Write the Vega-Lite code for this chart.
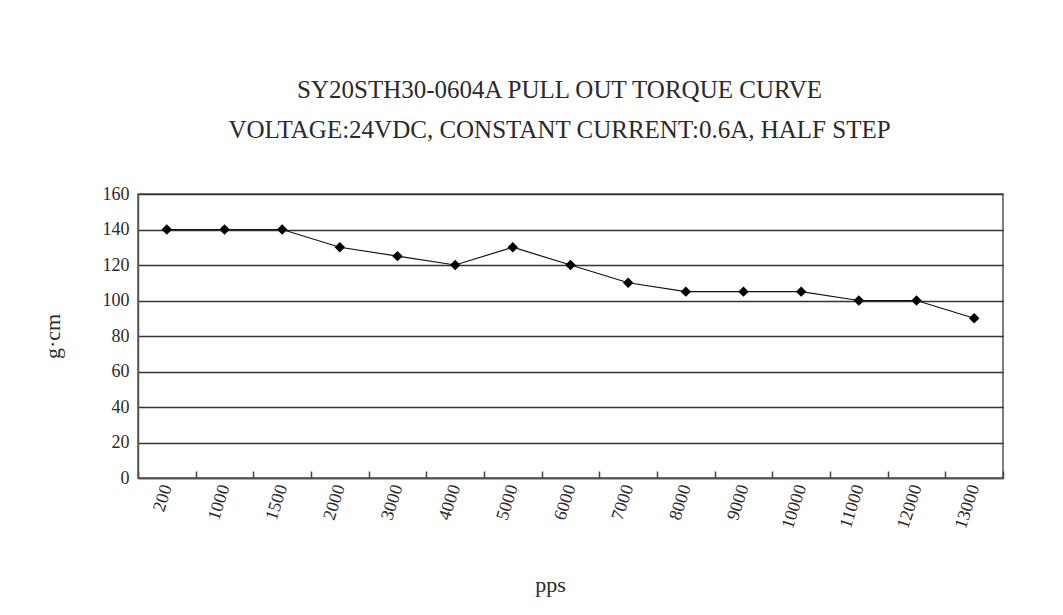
{
  "$schema": "https://vega.github.io/schema/vega-lite/v6.json",
  "autosize": {"type": "none"},
  "padding": {"left": 138, "top": 194, "right": 60, "bottom": 137},
  "width": 865,
  "height": 284,
  "background": "white",
  "title": {
    "text": ["SY20STH30-0604A PULL OUT TORQUE CURVE", "VOLTAGE:24VDC, CONSTANT CURRENT:0.6A, HALF STEP"],
    "font": "Liberation Serif",
    "fontSize": 25,
    "fontWeight": "normal",
    "color": "#2a2a2a",
    "lineHeight": 40,
    "offset": 42,
    "dx": -11,
    "anchor": "middle"
  },
  "config": {
    "font": "Liberation Serif",
    "view": {"stroke": "#555", "strokeWidth": 1.5},
    "axis": {"labelFont": "Liberation Serif", "titleFont": "Liberation Serif", "labelColor": "#2a2a2a", "titleColor": "#2a2a2a", "titleFontWeight": "normal"}
  },
  "data": {
    "values": [
      {"pps": "200", "torque": 140},
      {"pps": "1000", "torque": 140},
      {"pps": "1500", "torque": 140},
      {"pps": "2000", "torque": 130},
      {"pps": "3000", "torque": 125},
      {"pps": "4000", "torque": 120},
      {"pps": "5000", "torque": 130},
      {"pps": "6000", "torque": 120},
      {"pps": "7000", "torque": 110},
      {"pps": "8000", "torque": 105},
      {"pps": "9000", "torque": 105},
      {"pps": "10000", "torque": 105},
      {"pps": "11000", "torque": 100},
      {"pps": "12000", "torque": 100},
      {"pps": "13000", "torque": 90}
    ]
  },
  "encoding": {
    "x": {
      "field": "pps", "type": "ordinal", "sort": null,
      "scale": {"paddingInner": 0, "paddingOuter": 0},
      "axis": {
        "title": "pps", "titleFontSize": 22, "titleY": 96, "titleX": 412,
        "labelAngle": -72, "labelFontSize": 18, "labelPadding": 14,
        "labelAlign": "right", "labelBaseline": "middle",
        "tickBand": "extent", "tickSize": -7, "tickColor": "#444", "tickWidth": 1.5,
        "domainColor": "#555", "domainWidth": 1.5, "grid": false
      }
    },
    "y": {
      "field": "torque", "type": "quantitative",
      "scale": {"domain": [0, 160]},
      "axis": {
        "title": "g·cm", "titleFontSize": 22, "titleX": -74, "titleAngle": -90,
        "values": [0, 20, 40, 60, 80, 100, 120, 140, 160],
        "labelFontSize": 18, "labelPadding": 9, "ticks": false,
        "grid": true, "gridColor": "#333", "gridWidth": 1.5, "gridOpacity": 1,
        "domainColor": "#555", "domainWidth": 1.5
      }
    }
  },
  "layer": [
    {"mark": {"type": "line", "color": "#111", "strokeWidth": 1.2}},
    {"mark": {"type": "point", "shape": "diamond", "filled": true, "color": "#000", "size": 110, "opacity": 1}}
  ]
}
